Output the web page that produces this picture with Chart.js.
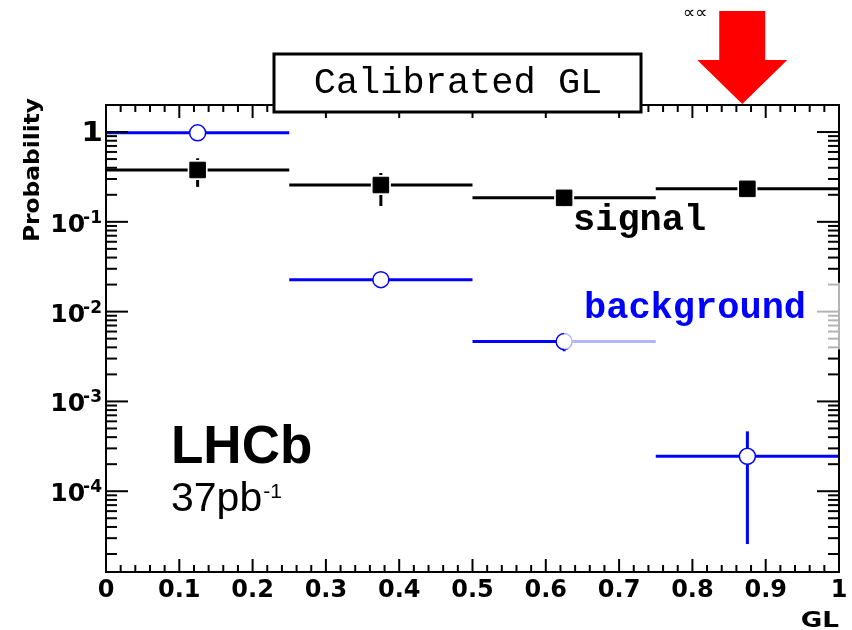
<!DOCTYPE html>
<html><head><meta charset="utf-8">
<script src="https://cdn.jsdelivr.net/npm/chart.js@4/dist/chart.umd.min.js"></script>
<style>html,body{margin:0;padding:0;background:#fff;overflow:hidden}</style>
</head><body>
<canvas id="c" width="852" height="630" style="display:block;width:852px;height:630px"></canvas>
<script>
// ---- data ----
const binCenters = [0.125, 0.375, 0.625, 0.875];
const binHalfWidth = 0.125;
const signalValues = [0.378, 0.257, 0.185, 0.233];
const signalErrLow = [0.245, 0.150, 0.143, 0.20];
const signalErrHigh = [0.51, 0.35, 0.20, 0.27];
const backgroundValues = [0.98, 0.0227, 0.00464, 0.000245];
const backgroundErrLow = [0.9, 0.021, 0.00362, 0.0000258];
const backgroundErrHigh = [1.05, 0.024, 0.0050, 0.000464];
const xTickLabels = ['0','0.1','0.2','0.3','0.4','0.5','0.6','0.7','0.8','0.9','1'];
const yTickValues = [1, 0.1, 0.01, 0.001, 0.0001];
const yTickExponents = ['', '-1', '-2', '-3', '-4'];
const arrowX = 0.868;
const titleText = 'Calibrated GL';

const BLUE = '#0000ff';
const FONT_B = '"DejaVu Sans", sans-serif';

function line(ctx, x1, y1, x2, y2){ ctx.beginPath(); ctx.moveTo(x1,y1); ctx.lineTo(x2,y2); ctx.stroke(); }

function errBars(chart, vals, lo, hi, color, gapX, gapY){
  const ctx = chart.ctx, xs = chart.scales.x, ys = chart.scales.y;
  ctx.save(); ctx.strokeStyle = color; ctx.lineWidth = 3; ctx.lineCap = 'butt';
  for (let i = 0; i < vals.length; i++){
    const cx = xs.getPixelForValue(binCenters[i]);
    const cy = ys.getPixelForValue(vals[i]);
    const xl = xs.getPixelForValue(binCenters[i] - binHalfWidth);
    const xr = xs.getPixelForValue(binCenters[i] + binHalfWidth);
    line(ctx, xl, cy, cx - gapX, cy);
    line(ctx, cx + gapX, cy, xr, cy);
    const yh = ys.getPixelForValue(hi[i]);
    const yl = ys.getPixelForValue(lo[i]);
    if (yh < cy - gapY) line(ctx, cx, yh, cx, cy - gapY);
    if (yl > cy + gapY) line(ctx, cx, cy + gapY, cx, yl);
  }
  ctx.restore();
}

function stretchedText(ctx, txt, x, y, sx){
  ctx.save(); ctx.translate(x, y); ctx.scale(sx, 1); ctx.fillText(txt, 0, 0); ctx.restore();
}

const deco = {
  id: 'deco',
  beforeDatasetsDraw(chart){
    errBars(chart, signalValues, signalErrLow, signalErrHigh, '#000', 10, 10);
    errBars(chart, backgroundValues, backgroundErrLow, backgroundErrHigh, BLUE, 8, 8);
  },
  afterDatasetsDraw(chart){
    const ctx = chart.ctx, xs = chart.scales.x, ys = chart.scales.y;
    const a = chart.chartArea;
    ctx.save();
    // frame
    ctx.strokeStyle = '#000'; ctx.lineWidth = 2;
    ctx.strokeRect(a.left, a.top, a.right - a.left, a.bottom - a.top);
    // x ticks
    for (let i = 0; i <= 50; i++){
      const px = xs.getPixelForValue(i * 0.02);
      const len = (i % 5 === 0) ? 13 : 7;
      line(ctx, px, a.bottom, px, a.bottom - len);
      line(ctx, px, a.top, px, a.top + len);
    }
    // y ticks
    for (let e = -5; e <= 0; e++){
      for (let m = 1; m <= 9; m++){
        const v = m * Math.pow(10, e);
        if (v <= ys.min || v >= ys.max) continue;
        const py = ys.getPixelForValue(v);
        const len = (m === 1) ? 22 : 11;
        line(ctx, a.left, py, a.left + len, py);
        line(ctx, a.right, py, a.right - len, py);
      }
    }
    // semi-transparent legend box
    const bx = xs.getPixelForValue(binCenters[2]);
    const by1 = ys.getPixelForValue(0.021), by2 = ys.getPixelForValue(0.0038);
    ctx.fillStyle = 'rgba(255,255,255,0.7)';
    ctx.fillRect(bx, by1, a.right + 6 - bx, by2 - by1);
    // legend texts
    ctx.font = 'bold 37px "Liberation Mono", monospace';
    ctx.textAlign = 'left'; ctx.textBaseline = 'alphabetic';
    ctx.fillStyle = '#000';
    ctx.fillText('signal', 573, 230);
    ctx.fillStyle = BLUE;
    ctx.fillText('background', 584, 318);

    // x tick labels
    ctx.fillStyle = '#000';
    ctx.font = 'bold 24px ' + FONT_B;
    ctx.textAlign = 'center';
    xTickLabels.forEach((t, i) => ctx.fillText(t, xs.getPixelForValue(i / 10), 597));
    // y tick labels
    yTickValues.forEach((v, i) => {
      const py = ys.getPixelForValue(v);
      ctx.textAlign = 'right';
      if (!yTickExponents[i]){
        ctx.font = 'bold 26px ' + FONT_B;
        stretchedText(ctx, '1', 103, py + 9, 1.2);
      } else {
        ctx.font = 'bold 17px ' + FONT_B;
        const w2 = ctx.measureText(yTickExponents[i]).width;
        ctx.fillText(yTickExponents[i], 102, py + 1);
        ctx.font = 'bold 25px ' + FONT_B;
        ctx.fillText('10', 102 - w2 + 2, py + 10);
      }
    });
    // axis titles
    ctx.font = 'bold 21px ' + FONT_B;
    ctx.textAlign = 'right';
    stretchedText(ctx, 'GL', 839, 627, 1.25);
    ctx.save();
    ctx.translate(39, 98); ctx.rotate(-Math.PI / 2); ctx.scale(1.06, 1);
    ctx.font = 'bold 22px ' + FONT_B;
    ctx.fillText('Probability', 0, 0);
    ctx.restore();

    // LHCb labels
    ctx.textAlign = 'left';
    ctx.font = 'bold 53px "Liberation Sans", Arial, sans-serif';
    ctx.fillText('LHCb', 171, 463);
    ctx.font = '41px "Liberation Sans", Arial, sans-serif';
    ctx.fillText('37pb', 171, 511);
    const w37 = ctx.measureText('37pb').width;
    ctx.font = '21px "Liberation Sans", Arial, sans-serif';
    ctx.fillText('-1', 171 + w37 + 1, 498);

    // title box
    ctx.fillStyle = '#fff';
    ctx.fillRect(274, 54, 367, 58);
    ctx.strokeStyle = '#000'; ctx.lineWidth = 3;
    ctx.strokeRect(274, 54, 367, 58);
    ctx.fillStyle = '#000';
    ctx.font = '37px "Liberation Mono", monospace';
    ctx.textAlign = 'center';
    ctx.fillText(titleText, 458, 93);

    // arrow
    const tx = xs.getPixelForValue(arrowX);
    ctx.fillStyle = '#ff0000';
    ctx.beginPath();
    ctx.moveTo(tx - 23, 11); ctx.lineTo(tx + 23, 11); ctx.lineTo(tx + 23, 60);
    ctx.lineTo(tx + 45, 60); ctx.lineTo(tx, a.top - 1); ctx.lineTo(tx - 45, 60);
    ctx.lineTo(tx - 23, 60); ctx.closePath(); ctx.fill();
    ctx.fillStyle = '#000';
    ctx.font = '17px "DejaVu Sans", sans-serif';
    ctx.textAlign = 'left';
    ctx.fillText('\u221D\u221D', 683, 18);
    ctx.restore();
  }
};

new Chart(document.getElementById('c'), {
  type: 'scatter',
  data: {
    datasets: [
      {
        label: 'signal',
        data: binCenters.map((x, i) => ({x, y: signalValues[i]})),
        pointStyle: 'rect', pointRadius: 11, pointHoverRadius: 11,
        backgroundColor: '#000', borderColor: '#000', borderWidth: 1
      },
      {
        label: 'background',
        data: binCenters.map((x, i) => ({x, y: backgroundValues[i]})),
        pointStyle: 'circle', pointRadius: 8, pointHoverRadius: 8,
        backgroundColor: '#fff', borderColor: BLUE, borderWidth: 1.5
      }
    ]
  },
  options: {
    responsive: false, animation: false, devicePixelRatio: 1,
    layout: { padding: { left: 106, right: 13, top: 105, bottom: 58 } },
    scales: {
      x: { type: 'linear', min: 0, max: 1, display: false },
      y: { type: 'logarithmic', min: 1.26e-5, max: 2, display: false }
    },
    plugins: { legend: { display: false }, tooltip: { enabled: false } },
    events: []
  },
  plugins: [deco]
});
</script>
</body></html>
